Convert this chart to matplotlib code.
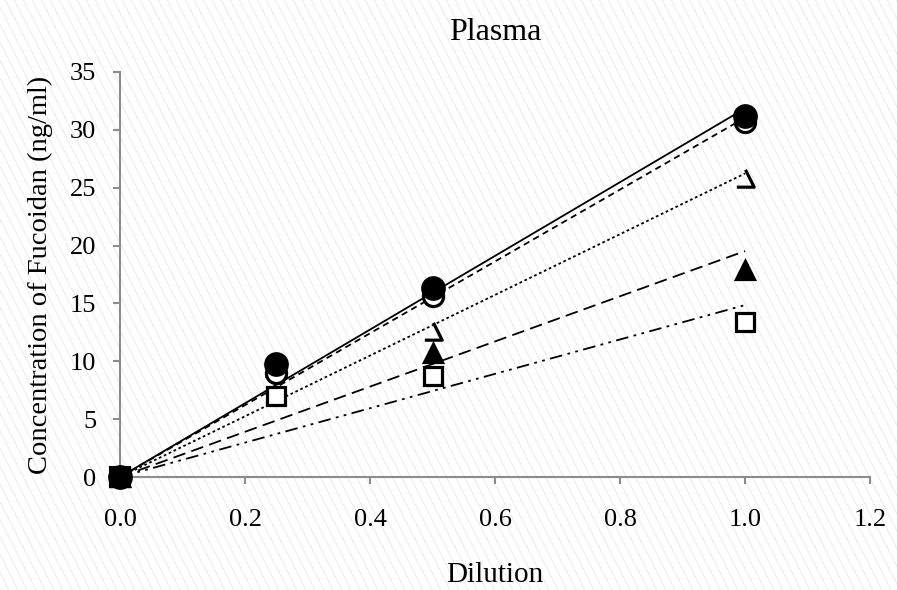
import numpy as np
import matplotlib
matplotlib.use("Agg")
import matplotlib.pyplot as plt
from matplotlib.path import Path
from matplotlib.collections import LineCollection

plt.rcParams['font.family'] = ['Liberation Serif', 'DejaVu Serif']

# Dilution levels and measured concentrations (ng/ml) per sample
dilution = [0.0, 0.25, 0.5, 1.0]
filled_circle = [0.0, 9.8, 16.3, 31.2]
open_circle = [0.0, 9.0, 15.6, 30.7]
open_triangle = [0.0, 9.3, 12.6, 25.8]
filled_triangle = [0.0, 9.5, 10.7, 17.9]
open_square = [0.0, 7.0, 8.7, 13.4]

x_ticks = [0.0, 0.2, 0.4, 0.6, 0.8, 1.0, 1.2]
y_ticks = [0, 5, 10, 15, 20, 25, 30, 35]

W, H = 897, 590
fig = plt.figure(figsize=(W / 100, H / 100), dpi=100)

# light diagonal texture behind everything
spacing = 9.0
run = H / np.tan(np.radians(63))
segs = []
x0 = -run
while x0 < W + run:
    segs.append([(x0 / W, 1.0), ((x0 + run) / W, 0.0)])
    x0 += spacing
fig.add_artist(LineCollection(segs, colors='#ebebeb', linewidths=0.7,
                              transform=fig.transFigure, zorder=-10))

ax = fig.add_axes([120 / W, 1 - 477 / H, (870 - 120) / W, (477 - 72) / H])
ax.patch.set_alpha(0)

# right and bottom edges of a triangle
half_tri = Path([(0, 1), (1, -1), (-1, -1)],
                [Path.MOVETO, Path.LINETO, Path.LINETO])

series = [
    (filled_triangle, '^', 'black', 'black', (0, (7, 3.5)), 13, 5),
    (open_square, 's', 'white', 'black', (0, (7, 3, 1.5, 3, 1.5, 3)), 12.5, 6),
    (open_triangle, half_tri, 'none', 'black', (0, (1.5, 1.5)), 12.5, 4),
    (open_circle, 'o', 'white', 'black', (0, (3.5, 2.5)), 14.5, 7),
    (filled_circle, 'o', 'black', 'black', '-', 15.5, 8),
]

xs = np.array(dilution)
for vals, marker, fc, ec, ls, ms, z in series:
    ys = np.array(vals)
    slope = np.sum(xs * ys) / np.sum(xs * xs)
    xl = np.array([0.0, xs.max()])
    ax.plot(xl, slope * xl, color='black', lw=1.3, linestyle=ls, zorder=2)
    ax.plot(xs, ys, linestyle='none', marker=marker, markersize=ms,
            markerfacecolor=fc, markeredgecolor=ec, markeredgewidth=2.3,
            zorder=z, clip_on=False)

# origin point shared by all samples
ax.plot([dilution[0]], [filled_circle[0]], linestyle='none', marker='s',
        markersize=15, markerfacecolor='black', markeredgecolor='black',
        markeredgewidth=1.5, zorder=9, clip_on=False)

ax.set_xlim(0, 1.2)
ax.set_ylim(0, 35)
ax.set_xticks(x_ticks)
ax.set_xticklabels([f"{v:.1f}" for v in x_ticks])
ax.set_yticks(y_ticks)
ax.set_yticklabels([str(v) for v in y_ticks])

for s in ['top', 'right']:
    ax.spines[s].set_visible(False)
for s in ['left', 'bottom']:
    ax.spines[s].set_color('#8c8c8c')
    ax.spines[s].set_linewidth(1.5)

ax.tick_params(axis='x', direction='out', length=5, width=1.5, color='#8c8c8c',
               pad=18, labelsize=19)
ax.tick_params(axis='y', direction='out', length=5, width=1.5, color='#8c8c8c',
               pad=12, labelsize=19)

ax.set_xlabel('Dilution', fontsize=21, labelpad=22)
ax.set_ylabel('Concentration of Fucoidan (ng/ml)', fontsize=20.5, labelpad=12)
ax.set_title('Plasma', fontsize=23, pad=23)

fig.savefig('out.png', dpi=100)
